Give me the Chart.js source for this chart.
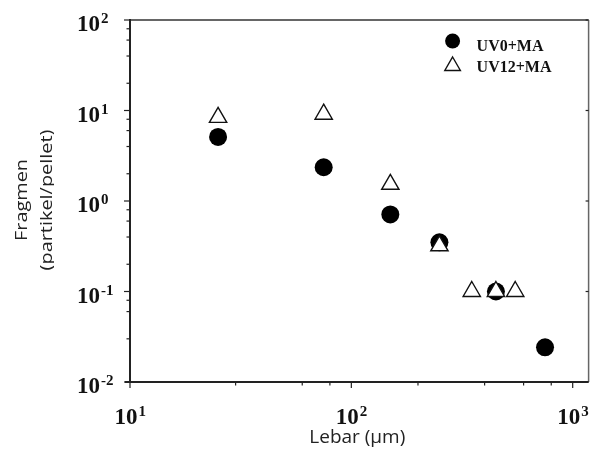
<!DOCTYPE html>
<html>
<head>
<meta charset="utf-8">
<script src="https://cdn.jsdelivr.net/npm/chart.js@4.4.0/dist/chart.umd.min.js"></script>
<style>
  html, body { margin: 0; padding: 0; background: #fff; }
  #wrap { width: 600px; height: 454px; }
</style>
</head>
<body>
<div id="wrap"><canvas id="fragChart" width="600" height="454"></canvas></div>
<script>
// values
const uv0Lebar = [25, 75, 150, 250, 450, 750];
const uv0Fragmen = [5.1, 2.36, 0.71, 0.35, 0.10, 0.0242];
const uv12Lebar = [25, 75, 150, 250, 350, 450, 550];
const uv12Fragmen = [8.4, 9.1, 1.53, 0.32, 0.10, 0.10, 0.10];
const seriesNames = ["UV0+MA", "UV12+MA"];
const xTickExps = [1, 2, 3];
const yTickExps = [-2, -1, 0, 1, 2];
const xTitle = "Lebar (µm)";
const yTitle = ["Fragmen", "(partikel/pellet)"];

const serif = "'Liberation Serif', 'Times New Roman', serif";
const sans = "'Open Sans', 'Liberation Sans', sans-serif";

const isPow10 = v => Math.abs(Math.log10(v) - Math.round(Math.log10(v))) < 1e-6;
const isWholeStep = v => {
  const m = v / Math.pow(10, Math.floor(Math.log10(v) + 1e-9));
  return Math.abs(m - Math.round(m)) < 1e-6;
};

function drawPowLabel(ctx, exp, x, baseline) {
  ctx.textAlign = "left";
  ctx.textBaseline = "alphabetic";
  ctx.font = "bold 23px " + serif;
  ctx.fillText("10", x, baseline);
  const w = ctx.measureText("10").width;
  ctx.font = "bold 15px " + serif;
  ctx.fillText(String(exp), x + w + 1, baseline - 8);
}

const frameAxes = {
  id: "frameAxes",
  afterDraw(chart) {
    const {ctx, chartArea: a, scales} = chart;
    const xs = scales.x, ys = scales.y;
    ctx.save();

    // frame
    ctx.lineWidth = 1.5;
    ctx.strokeStyle = "#333";
    ctx.beginPath(); ctx.moveTo(a.left, a.top); ctx.lineTo(a.right, a.top); ctx.stroke();
    ctx.strokeStyle = "#666";
    ctx.beginPath(); ctx.moveTo(a.right, a.top); ctx.lineTo(a.right, a.bottom); ctx.stroke();
    ctx.strokeStyle = "#222";
    ctx.lineWidth = 2;
    ctx.beginPath(); ctx.moveTo(a.left, a.top - 1); ctx.lineTo(a.left, a.bottom + 1); ctx.stroke();
    ctx.beginPath(); ctx.moveTo(a.left - 5, a.bottom); ctx.lineTo(a.right, a.bottom); ctx.stroke();

    // tick marks from the scales' own ticks
    ctx.lineWidth = 1.2;
    xs.ticks.forEach(t => {
      if (!isWholeStep(t.value) || t.value > xs.max) return;
      const px = xs.getPixelForValue(t.value);
      const len = isPow10(t.value) ? 6 : 3.5;
      ctx.beginPath(); ctx.moveTo(px, a.bottom); ctx.lineTo(px, a.bottom + len); ctx.stroke();
    });
    ys.ticks.forEach(t => {
      if (!isWholeStep(t.value)) return;
      const py = ys.getPixelForValue(t.value);
      const len = isPow10(t.value) ? 6 : 3.5;
      ctx.beginPath(); ctx.moveTo(a.left, py); ctx.lineTo(a.left - len, py); ctx.stroke();
      if (isPow10(t.value)) {
        ctx.beginPath(); ctx.moveTo(a.right, py); ctx.lineTo(a.right - 3, py); ctx.stroke();
      }
    });

    // tick labels
    ctx.fillStyle = "#111";
    xTickExps.forEach(e => {
      const px = xs.getPixelForValue(Math.pow(10, e));
      drawPowLabel(ctx, e, px - 15.5, a.bottom + 42);
    });
    yTickExps.forEach(e => {
      const py = ys.getPixelForValue(Math.pow(10, e));
      drawPowLabel(ctx, e, a.left - 53, py + 11);
    });

    // axis titles
    ctx.fillStyle = "#222";
    ctx.font = "19px " + sans;
    ctx.textAlign = "center";
    ctx.textBaseline = "alphabetic";
    ctx.fillText(xTitle, (a.left + a.right) / 2 - 2, a.bottom + 61);

    ctx.save();
    ctx.translate(0, 200);
    ctx.rotate(-Math.PI / 2);
    ctx.scale(1.17, 1);
    ctx.font = "17px " + sans;
    ctx.fillText(yTitle[0], 0, 27);
    ctx.beginPath(); ctx.rect(-100, 0, 200, 54); ctx.clip();
    ctx.fillText(yTitle[1], 0, 52);
    ctx.restore();

    // legend inside the plot
    const lx = a.right - 136;
    ctx.fillStyle = "#000";
    ctx.beginPath(); ctx.arc(lx, a.top + 21, 7.5, 0, Math.PI * 2); ctx.fill();
    const ty = a.top + 46, r = 9;
    ctx.beginPath();
    ctx.moveTo(lx, ty - r);
    ctx.lineTo(lx + 0.866 * r, ty + r / 2);
    ctx.lineTo(lx - 0.866 * r, ty + r / 2);
    ctx.closePath();
    ctx.lineWidth = 1.4; ctx.strokeStyle = "#111"; ctx.stroke();
    ctx.fillStyle = "#111";
    ctx.font = "bold 16px " + serif;
    ctx.textAlign = "left";
    ctx.fillText(seriesNames[0], lx + 24, a.top + 31);
    ctx.fillText(seriesNames[1], lx + 24, a.top + 52);
    ctx.restore();
  }
};

new Chart(document.getElementById("fragChart"), {
  type: "scatter",
  data: {
    datasets: [
      {
        label: seriesNames[1],
        data: uv12Lebar.map((x, i) => ({x: x, y: uv12Fragmen[i]})),
        pointStyle: "triangle",
        pointRadius: 10,
        backgroundColor: "#fff",
        borderColor: "#111",
        pointBorderWidth: 1.4,
        order: 0
      },
      {
        label: seriesNames[0],
        data: uv0Lebar.map((x, i) => ({x: x, y: uv0Fragmen[i]})),
        pointStyle: "circle",
        pointRadius: 9,
        backgroundColor: "#000",
        borderColor: "#000",
        pointBorderWidth: 0,
        order: 1
      }
    ]
  },
  options: {
    responsive: false,
    animation: false,
    layout: { padding: { left: 130, right: 8, top: 20, bottom: 72 } },
    plugins: { legend: { display: false }, tooltip: { enabled: false } },
    scales: {
      x: { type: "logarithmic", min: 10, max: 1180, display: false },
      y: { type: "logarithmic", min: 0.01, max: 100, display: false }
    }
  },
  plugins: [frameAxes]
});
</script>
</body>
</html>
